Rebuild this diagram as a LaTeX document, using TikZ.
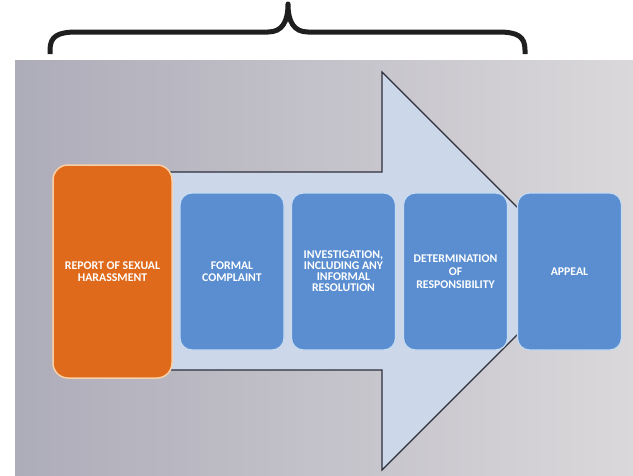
\documentclass[tikz,border=0pt]{standalone}
\usepackage{fontspec}
\setmainfont{Carlito}
\definecolor{bgL}{HTML}{ADACB9}
\definecolor{bgR}{HTML}{DAD8DA}
\definecolor{arrowfill}{HTML}{CCD8EA}
\definecolor{arrowline}{HTML}{2E2E3A}
\definecolor{orangefill}{HTML}{E06A1C}
\definecolor{orangeedge}{HTML}{F9CFA6}
\definecolor{bluefill}{HTML}{5A8ED0}
\definecolor{blueedge}{HTML}{C6DAF0}
\tikzset{
  stagebox/.style={rectangle, rounded corners=12pt, fill=bluefill, draw=blueedge, line width=1.2pt,
    minimum width=104pt, minimum height=157pt, inner sep=2pt, align=center, text=white,
    font=\bfseries\fontsize{11.8}{12}\selectfont},
  startbox/.style={stagebox, rounded corners=15pt, fill=orangefill, draw=orangeedge, line width=1.5pt,
    minimum width=119pt, minimum height=213pt},
  bracepath/.style={line width=5pt, draw=black!88, line join=round},
}
\begin{document}
\begin{tikzpicture}[x=1pt,y=-1pt]
\useasboundingbox (0,0) rectangle (633,475);
% background panel
\shade[left color=bgL, right color=bgR] (15,60) rectangle (633,475);
% brace
\draw[bracepath] (50,54) -- (50,50) .. controls (50,36) and (58,32) .. (77,32)
  -- (268,32) .. controls (282,32) and (288,22) .. (288,4)
  .. controls (288,22) and (294,32) .. (308,32)
  -- (498,32) .. controls (517,32) and (525,36) .. (525,50) -- (525,54);
% big arrow
\draw[fill=arrowfill, draw=arrowline, line width=1.2pt, line join=miter]
  (100,172) -- (382,172) -- (382,72) -- (581,271) -- (382,470) -- (382,370) -- (100,370) -- cycle;
% stages
\node[startbox] (report) at (112.5,271.5) {REPORT OF SEXUAL\\HARASSMENT};
\node[stagebox] (formal) at (232,271.5) {FORMAL\\COMPLAINT};
\node[stagebox, font=\bfseries\fontsize{11.8}{11}\selectfont] (invest) at (343.5,271.5) {INVESTIGATION,\\INCLUDING ANY\\INFORMAL\\RESOLUTION};
\node[stagebox, font=\bfseries\fontsize{11.8}{13}\selectfont] (determ) at (455.5,271.5) {DETERMINATION\\OF\\RESPONSIBILITY};
\node[stagebox] (appeal) at (569.5,271.5) {APPEAL};
\end{tikzpicture}
\end{document}
